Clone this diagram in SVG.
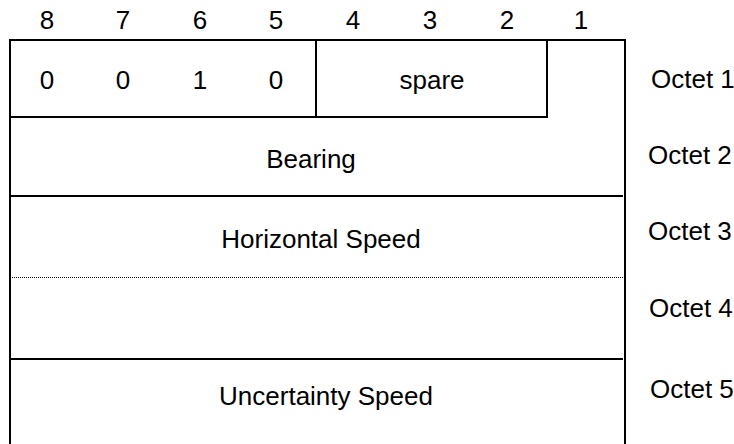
<svg xmlns="http://www.w3.org/2000/svg" width="734" height="444" viewBox="0 0 734 444">
<style>
text{font-family:"Liberation Sans",Arial,sans-serif;font-size:26px;fill:#000}
.c{text-anchor:middle}
.ln{stroke:#000;stroke-width:2;fill:none}
.dot{stroke:#000;stroke-width:1;stroke-dasharray:1 1;fill:none}
</style>
<rect width="734" height="444" fill="#fff"/>
<g id="bits">
<text class="c" x="47" y="29">8</text>
<text class="c" x="123" y="29">7</text>
<text class="c" x="200" y="29">6</text>
<text class="c" x="276" y="29">5</text>
<text class="c" x="353" y="29">4</text>
<text class="c" x="430" y="29">3</text>
<text class="c" x="507" y="29">2</text>
<text class="c" x="581" y="29">1</text>
</g>
<g id="connectors">
<path class="ln" d="M10,444 V40 H625 V444"/>
<path class="ln" d="M10,117 H316 V40"/>
<path class="ln" d="M316,117 H547 V40"/>
<path class="ln" d="M10,196 H623"/>
<path class="dot" d="M10,277.5 H623"/>
<path class="ln" d="M10,359 H623"/>
</g>
<g id="octet1">
<text class="c" x="47" y="89">0</text>
<text class="c" x="123" y="89">0</text>
<text class="c" x="200" y="89">1</text>
<text class="c" x="276" y="89">0</text>
<text class="c" x="432" y="89">spare</text>
<text x="651" y="88">Octet 1</text>
</g>
<g id="octet2">
<text class="c" x="311" y="168">Bearing</text>
<text x="648" y="164">Octet 2</text>
</g>
<g id="octet3">
<text class="c" x="321" y="248">Horizontal Speed</text>
<text x="648" y="240">Octet 3</text>
</g>
<g id="octet4">
<text x="649" y="317">Octet 4</text>
</g>
<g id="octet5">
<text class="c" x="326" y="405">Uncertainty Speed</text>
<text x="650" y="398">Octet 5</text>
</g>
</svg>
